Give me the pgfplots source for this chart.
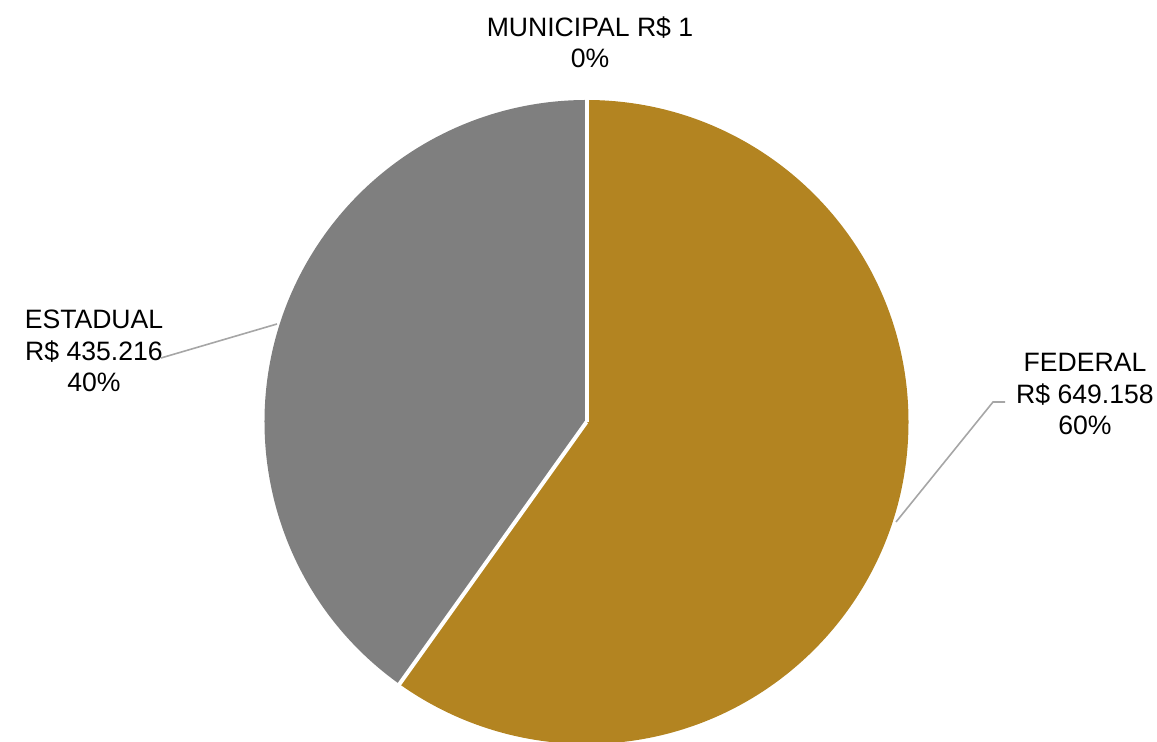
\documentclass[border=0pt]{standalone}
\usepackage{pgfplots}
\usepackage{pgfplotstable}
\pgfplotsset{compat=1.18}
\usepackage{fontspec}
\setmainfont{Liberation Sans}
\definecolor{fedgold}{HTML}{B38421}
\definecolor{estgray}{HTML}{7F7F7F}
\definecolor{leader}{HTML}{A6A6A6}

% values in R$ thousand
\pgfplotstableread{
name value
FEDERAL 649.158
ESTADUAL 435.216
MUNICIPAL 0.001
}\piedata
\pgfplotstablegetelem{0}{value}\of\piedata \let\vFed\pgfplotsretval
\pgfplotstablegetelem{1}{value}\of\piedata \let\vEst\pgfplotsretval
\pgfplotstablegetelem{2}{value}\of\piedata \let\vMun\pgfplotsretval
\pgfmathsetmacro{\vTot}{\vFed+\vEst+\vMun}
\pgfmathsetmacro{\aA}{90}
\pgfmathsetmacro{\aB}{90-360*(\vFed/\vTot)}
\pgfmathsetmacro{\aC}{\aB-360*(\vEst/\vTot)}
\pgfmathsetmacro{\aD}{\aC-360*(\vMun/\vTot)}

\begin{document}
\begin{tikzpicture}
\begin{axis}[
  hide axis, scale only axis,
  width=578.5pt, height=371pt,
  xmin=0, xmax=1157, ymin=0, ymax=742,
  clip=false,
]
\coordinate (bbsw) at (axis cs:0,0);
\coordinate (bbne) at (axis cs:1157,742);
% sectors (centre 586.5,320, radius 322 px = 161pt)
\fill[fedgold] (axis cs:586.5,320) -- ++(\aA:161pt) arc[start angle=\aA, end angle=\aB, radius=161pt] -- cycle;
\fill[estgray] (axis cs:586.5,320) -- ++(\aB:161pt) arc[start angle=\aB, end angle=\aC, radius=161pt] -- cycle;
\fill[gray] (axis cs:586.5,320) -- ++(\aC:161pt) arc[start angle=\aC, end angle=\aD, radius=161pt] -- cycle;
% white separators
\draw[white, line width=2pt] (axis cs:586.5,320) -- ++(\aA:162pt);
\draw[white, line width=2pt] (axis cs:586.5,320) -- ++(\aB:162pt);
\draw[white, line width=2pt] (axis cs:586.5,320) -- ++(\aC:162pt);
% leader lines
\draw[leader, line width=0.8pt] (axis cs:896,220) -- (axis cs:993,340) -- (axis cs:1005,340);
\draw[leader, line width=0.8pt] (axis cs:277,418) -- (axis cs:161,384);
% labels
\node[align=center, font=\fontsize{13.3}{15.6}\selectfont, inner sep=0pt] at (axis cs:590,700) {MUNICIPAL R\$ 1\\0\%};
\node[align=center, font=\fontsize{13.3}{15.6}\selectfont, inner sep=0pt] at (axis cs:94,391) {ESTADUAL\\R\$ 435.216\\40\%};
\node[align=center, font=\fontsize{13.3}{15.6}\selectfont, inner sep=0pt] at (axis cs:1085,348) {FEDERAL\\R\$ 649.158\\60\%};
\end{axis}
\pgfresetboundingbox
\path (bbsw) rectangle (bbne);
\end{tikzpicture}
\end{document}
